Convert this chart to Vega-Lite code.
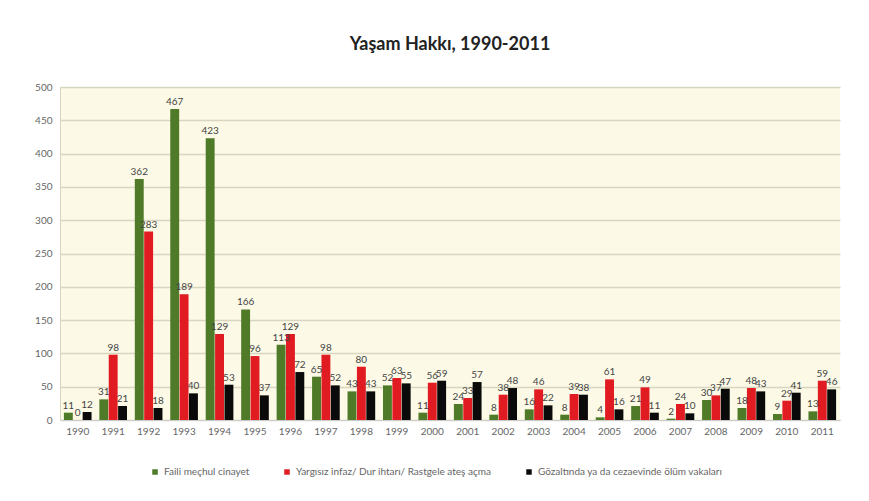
{
  "$schema": "https://vega.github.io/schema/vega-lite/v6.json",
  "width": 780,
  "height": 333,
  "autosize": "none",
  "padding": {"left": 60, "top": 87, "right": 29, "bottom": 81},
  "background": "#ffffff",
  "title": {
    "text": "Yaşam Hakkı, 1990-2011",
    "font": "Lato",
    "fontSize": 18,
    "fontWeight": "bold",
    "color": "#222222",
    "anchor": "middle",
    "offset": 28
  },
  "data": {
    "values": [
      {"year": "1990", "series": "Faili meçhul cinayet", "o": 1, "value": 11},
      {"year": "1990", "series": "Yargısız infaz/ Dur ihtarı/ Rastgele ateş açma", "o": 2, "value": 0},
      {"year": "1990", "series": "Gözaltında ya da cezaevinde ölüm vakaları", "o": 3, "value": 12},
      {"year": "1991", "series": "Faili meçhul cinayet", "o": 1, "value": 31},
      {"year": "1991", "series": "Yargısız infaz/ Dur ihtarı/ Rastgele ateş açma", "o": 2, "value": 98},
      {"year": "1991", "series": "Gözaltında ya da cezaevinde ölüm vakaları", "o": 3, "value": 21},
      {"year": "1992", "series": "Faili meçhul cinayet", "o": 1, "value": 362},
      {"year": "1992", "series": "Yargısız infaz/ Dur ihtarı/ Rastgele ateş açma", "o": 2, "value": 283},
      {"year": "1992", "series": "Gözaltında ya da cezaevinde ölüm vakaları", "o": 3, "value": 18},
      {"year": "1993", "series": "Faili meçhul cinayet", "o": 1, "value": 467},
      {"year": "1993", "series": "Yargısız infaz/ Dur ihtarı/ Rastgele ateş açma", "o": 2, "value": 189},
      {"year": "1993", "series": "Gözaltında ya da cezaevinde ölüm vakaları", "o": 3, "value": 40},
      {"year": "1994", "series": "Faili meçhul cinayet", "o": 1, "value": 423},
      {"year": "1994", "series": "Yargısız infaz/ Dur ihtarı/ Rastgele ateş açma", "o": 2, "value": 129},
      {"year": "1994", "series": "Gözaltında ya da cezaevinde ölüm vakaları", "o": 3, "value": 53},
      {"year": "1995", "series": "Faili meçhul cinayet", "o": 1, "value": 166},
      {"year": "1995", "series": "Yargısız infaz/ Dur ihtarı/ Rastgele ateş açma", "o": 2, "value": 96},
      {"year": "1995", "series": "Gözaltında ya da cezaevinde ölüm vakaları", "o": 3, "value": 37},
      {"year": "1996", "series": "Faili meçhul cinayet", "o": 1, "value": 113},
      {"year": "1996", "series": "Yargısız infaz/ Dur ihtarı/ Rastgele ateş açma", "o": 2, "value": 129},
      {"year": "1996", "series": "Gözaltında ya da cezaevinde ölüm vakaları", "o": 3, "value": 72},
      {"year": "1997", "series": "Faili meçhul cinayet", "o": 1, "value": 65},
      {"year": "1997", "series": "Yargısız infaz/ Dur ihtarı/ Rastgele ateş açma", "o": 2, "value": 98},
      {"year": "1997", "series": "Gözaltında ya da cezaevinde ölüm vakaları", "o": 3, "value": 52},
      {"year": "1998", "series": "Faili meçhul cinayet", "o": 1, "value": 43},
      {"year": "1998", "series": "Yargısız infaz/ Dur ihtarı/ Rastgele ateş açma", "o": 2, "value": 80},
      {"year": "1998", "series": "Gözaltında ya da cezaevinde ölüm vakaları", "o": 3, "value": 43},
      {"year": "1999", "series": "Faili meçhul cinayet", "o": 1, "value": 52},
      {"year": "1999", "series": "Yargısız infaz/ Dur ihtarı/ Rastgele ateş açma", "o": 2, "value": 63},
      {"year": "1999", "series": "Gözaltında ya da cezaevinde ölüm vakaları", "o": 3, "value": 55},
      {"year": "2000", "series": "Faili meçhul cinayet", "o": 1, "value": 11},
      {"year": "2000", "series": "Yargısız infaz/ Dur ihtarı/ Rastgele ateş açma", "o": 2, "value": 56},
      {"year": "2000", "series": "Gözaltında ya da cezaevinde ölüm vakaları", "o": 3, "value": 59},
      {"year": "2001", "series": "Faili meçhul cinayet", "o": 1, "value": 24},
      {"year": "2001", "series": "Yargısız infaz/ Dur ihtarı/ Rastgele ateş açma", "o": 2, "value": 33},
      {"year": "2001", "series": "Gözaltında ya da cezaevinde ölüm vakaları", "o": 3, "value": 57},
      {"year": "2002", "series": "Faili meçhul cinayet", "o": 1, "value": 8},
      {"year": "2002", "series": "Yargısız infaz/ Dur ihtarı/ Rastgele ateş açma", "o": 2, "value": 38},
      {"year": "2002", "series": "Gözaltında ya da cezaevinde ölüm vakaları", "o": 3, "value": 48},
      {"year": "2003", "series": "Faili meçhul cinayet", "o": 1, "value": 16},
      {"year": "2003", "series": "Yargısız infaz/ Dur ihtarı/ Rastgele ateş açma", "o": 2, "value": 46},
      {"year": "2003", "series": "Gözaltında ya da cezaevinde ölüm vakaları", "o": 3, "value": 22},
      {"year": "2004", "series": "Faili meçhul cinayet", "o": 1, "value": 8},
      {"year": "2004", "series": "Yargısız infaz/ Dur ihtarı/ Rastgele ateş açma", "o": 2, "value": 39},
      {"year": "2004", "series": "Gözaltında ya da cezaevinde ölüm vakaları", "o": 3, "value": 38},
      {"year": "2005", "series": "Faili meçhul cinayet", "o": 1, "value": 4},
      {"year": "2005", "series": "Yargısız infaz/ Dur ihtarı/ Rastgele ateş açma", "o": 2, "value": 61},
      {"year": "2005", "series": "Gözaltında ya da cezaevinde ölüm vakaları", "o": 3, "value": 16},
      {"year": "2006", "series": "Faili meçhul cinayet", "o": 1, "value": 21},
      {"year": "2006", "series": "Yargısız infaz/ Dur ihtarı/ Rastgele ateş açma", "o": 2, "value": 49},
      {"year": "2006", "series": "Gözaltında ya da cezaevinde ölüm vakaları", "o": 3, "value": 11},
      {"year": "2007", "series": "Faili meçhul cinayet", "o": 1, "value": 2},
      {"year": "2007", "series": "Yargısız infaz/ Dur ihtarı/ Rastgele ateş açma", "o": 2, "value": 24},
      {"year": "2007", "series": "Gözaltında ya da cezaevinde ölüm vakaları", "o": 3, "value": 10},
      {"year": "2008", "series": "Faili meçhul cinayet", "o": 1, "value": 30},
      {"year": "2008", "series": "Yargısız infaz/ Dur ihtarı/ Rastgele ateş açma", "o": 2, "value": 37},
      {"year": "2008", "series": "Gözaltında ya da cezaevinde ölüm vakaları", "o": 3, "value": 47},
      {"year": "2009", "series": "Faili meçhul cinayet", "o": 1, "value": 18},
      {"year": "2009", "series": "Yargısız infaz/ Dur ihtarı/ Rastgele ateş açma", "o": 2, "value": 48},
      {"year": "2009", "series": "Gözaltında ya da cezaevinde ölüm vakaları", "o": 3, "value": 43},
      {"year": "2010", "series": "Faili meçhul cinayet", "o": 1, "value": 9},
      {"year": "2010", "series": "Yargısız infaz/ Dur ihtarı/ Rastgele ateş açma", "o": 2, "value": 29},
      {"year": "2010", "series": "Gözaltında ya da cezaevinde ölüm vakaları", "o": 3, "value": 41},
      {"year": "2011", "series": "Faili meçhul cinayet", "o": 1, "value": 13},
      {"year": "2011", "series": "Yargısız infaz/ Dur ihtarı/ Rastgele ateş açma", "o": 2, "value": 59},
      {"year": "2011", "series": "Gözaltında ya da cezaevinde ölüm vakaları", "o": 3, "value": 46}
    ]
  },
  "encoding": {
    "x": {
      "field": "year",
      "type": "nominal",
      "scale": {"paddingInner": 0.22, "paddingOuter": 0.11},
      "axis": {
        "title": null,
        "labelAngle": 0,
        "labelFont": "Lato",
        "labelFontSize": 10,
        "labelColor": "#666666",
        "labelPadding": 6,
        "domainColor": "#cccccc",
        "ticks": false
      }
    },
    "xOffset": {"field": "o", "type": "ordinal", "scale": {"paddingInner": 0.05}},
    "y": {
      "field": "value",
      "type": "quantitative",
      "scale": {"domain": [0, 500], "nice": false},
      "axis": {
        "title": null,
        "values": [0, 50, 100, 150, 200, 250, 300, 350, 400, 450, 500],
        "labelFont": "Lato",
        "labelFontSize": 10,
        "labelColor": "#666666",
        "labelPadding": 8,
        "gridColor": "#d8d5c0",
        "gridWidth": 1.5,
        "domainColor": "#d8d5c0",
        "ticks": false
      }
    }
  },
  "layer": [
    {
      "mark": {"type": "bar"},
      "encoding": {
        "color": {
          "field": "series",
          "type": "nominal",
          "scale": {
            "domain": ["Faili meçhul cinayet", "Yargısız infaz/ Dur ihtarı/ Rastgele ateş açma", "Gözaltında ya da cezaevinde ölüm vakaları"],
            "range": ["#4f7a28", "#e01b22", "#0a0a0a"]
          },
          "legend": {
            "title": null,
            "orient": "none",
            "legendX": 90,
            "legendY": 380,
            "direction": "horizontal",
            "symbolType": "square",
            "symbolSize": 30,
            "labelFont": "Lato",
            "labelFontSize": 10,
            "labelColor": "#666666",
            "labelLimit": 300,
            "columnPadding": 32
          }
        }
      }
    },
    {
      "mark": {"type": "text", "dy": -7, "font": "Lato", "fontSize": 10, "color": "#444444"},
      "encoding": {"text": {"field": "value", "type": "quantitative"}}
    }
  ],
  "config": {
    "view": {"fill": "#fcfae6", "stroke": null}
  }
}
